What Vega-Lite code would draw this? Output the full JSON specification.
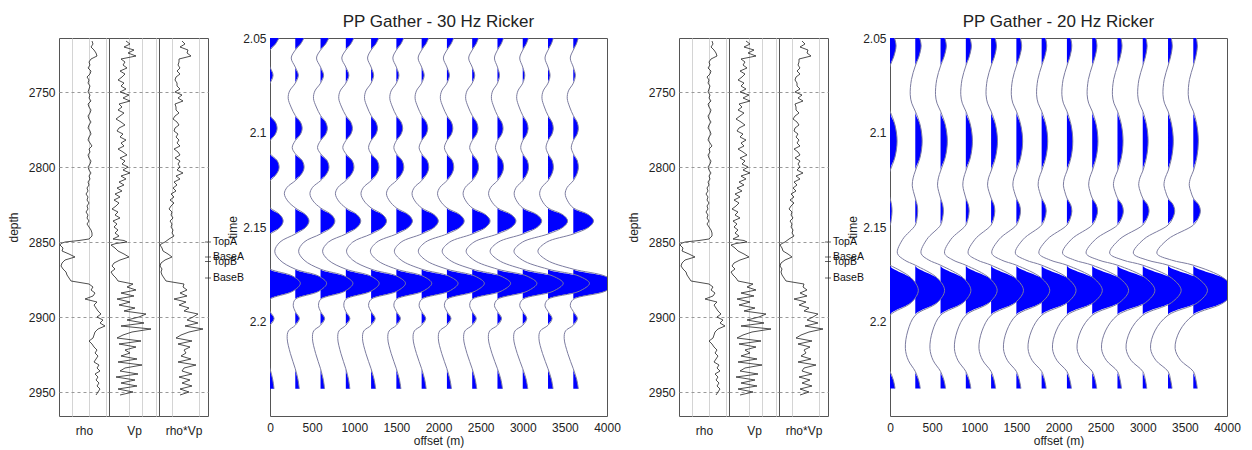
{
"$schema":"https://vega.github.io/schema/vega-lite/v6.json",
"padding":{"left":6,"top":12,"right":5,"bottom":5},
"bounds":"flush",
"spacing":0,
"datasets":{
"markers":[{"name":"TopA","d":2850},{"name":"BaseA","d":2860},{"name":"TopB","d":2863},{"name":"BaseB","d":2874}],
"logs":[
{"d":2716,"rho":2.46,"vp":2850,"ai":7450},{"d":2718,"rho":2.48,"vp":3050,"ai":7900},{"d":2720,"rho":2.44,"vp":2750,"ai":7150},{"d":2722,"rho":2.50,"vp":3250,"ai":8350},{"d":2724,"rho":2.54,"vp":2950,"ai":8200},{"d":2726,"rho":2.56,"vp":3350,"ai":8800},{"d":2728,"rho":2.44,"vp":2600,"ai":7000},{"d":2730,"rho":2.40,"vp":2800,"ai":7000},{"d":2732,"rho":2.42,"vp":2700,"ai":6850},{"d":2734,"rho":2.38,"vp":2900,"ai":7150},{"d":2736,"rho":2.44,"vp":2550,"ai":6700},{"d":2738,"rho":2.42,"vp":2800,"ai":7150},{"d":2740,"rho":2.36,"vp":2650,"ai":6550},{"d":2742,"rho":2.40,"vp":2450,"ai":6400},{"d":2744,"rho":2.38,"vp":2750,"ai":6700},{"d":2746,"rho":2.42,"vp":2600,"ai":6700},{"d":2748,"rho":2.40,"vp":2850,"ai":7150},{"d":2750,"rho":2.38,"vp":2550,"ai":6400},{"d":2752,"rho":2.42,"vp":3000,"ai":7450},{"d":2754,"rho":2.40,"vp":2700,"ai":6850},{"d":2756,"rho":2.44,"vp":3050,"ai":7600},{"d":2758,"rho":2.38,"vp":2500,"ai":6400},{"d":2760,"rho":2.40,"vp":2650,"ai":6550},{"d":2762,"rho":2.44,"vp":2450,"ai":6550},{"d":2764,"rho":2.42,"vp":2750,"ai":7000},{"d":2766,"rho":2.38,"vp":2550,"ai":6400},{"d":2768,"rho":2.40,"vp":2350,"ai":6100},{"d":2770,"rho":2.44,"vp":2600,"ai":6700},{"d":2772,"rho":2.40,"vp":2800,"ai":7000},{"d":2774,"rho":2.38,"vp":2500,"ai":6400},{"d":2776,"rho":2.42,"vp":2400,"ai":6250},{"d":2778,"rho":2.44,"vp":2700,"ai":6850},{"d":2780,"rho":2.40,"vp":2550,"ai":6550},{"d":2782,"rho":2.38,"vp":2850,"ai":7000},{"d":2784,"rho":2.42,"vp":2600,"ai":6700},{"d":2786,"rho":2.46,"vp":2750,"ai":7150},{"d":2788,"rho":2.40,"vp":2450,"ai":6250},{"d":2790,"rho":2.42,"vp":2700,"ai":6850},{"d":2792,"rho":2.38,"vp":2900,"ai":7150},{"d":2794,"rho":2.40,"vp":2550,"ai":6400},{"d":2796,"rho":2.44,"vp":2800,"ai":7150},{"d":2798,"rho":2.42,"vp":2650,"ai":6850},{"d":2800,"rho":2.38,"vp":2950,"ai":7150},{"d":2802,"rho":2.40,"vp":2700,"ai":6700},{"d":2804,"rho":2.44,"vp":3050,"ai":7600},{"d":2806,"rho":2.40,"vp":2600,"ai":6550},{"d":2808,"rho":2.42,"vp":2850,"ai":7150},{"d":2810,"rho":2.38,"vp":2500,"ai":6250},{"d":2812,"rho":2.40,"vp":2750,"ai":6700},{"d":2814,"rho":2.36,"vp":2400,"ai":6100},{"d":2816,"rho":2.38,"vp":2650,"ai":6550},{"d":2818,"rho":2.34,"vp":2300,"ai":5800},{"d":2820,"rho":2.38,"vp":2550,"ai":6250},{"d":2822,"rho":2.36,"vp":2250,"ai":5650},{"d":2824,"rho":2.40,"vp":2500,"ai":6250},{"d":2826,"rho":2.36,"vp":2350,"ai":5800},{"d":2828,"rho":2.38,"vp":2150,"ai":5500},{"d":2830,"rho":2.34,"vp":2450,"ai":5950},{"d":2832,"rho":2.38,"vp":2300,"ai":5800},{"d":2834,"rho":2.36,"vp":2550,"ai":6100},{"d":2836,"rho":2.40,"vp":2200,"ai":5650},{"d":2838,"rho":2.36,"vp":2400,"ai":5950},{"d":2840,"rho":2.40,"vp":2250,"ai":5800},{"d":2842,"rho":2.44,"vp":2450,"ai":6100},{"d":2844,"rho":2.46,"vp":2300,"ai":5950},{"d":2846,"rho":2.46,"vp":2500,"ai":6250},{"d":2848,"rho":2.40,"vp":2200,"ai":5500},{"d":2849,"rho":2.20,"vp":2750,"ai":5200},{"d":2850,"rho":1.92,"vp":2900,"ai":4900},{"d":2851,"rho":1.84,"vp":2350,"ai":4450},{"d":2852,"rho":1.82,"vp":2100,"ai":4150},{"d":2854,"rho":1.88,"vp":2300,"ai":4450},{"d":2856,"rho":1.86,"vp":2450,"ai":4600},{"d":2858,"rho":2.00,"vp":2750,"ai":5350},{"d":2860,"rho":2.12,"vp":3000,"ai":5950},{"d":2862,"rho":1.92,"vp":2550,"ai":4900},{"d":2864,"rho":1.86,"vp":2250,"ai":4300},{"d":2866,"rho":1.84,"vp":2150,"ai":4150},{"d":2868,"rho":1.88,"vp":2300,"ai":4450},{"d":2870,"rho":1.94,"vp":2100,"ai":4300},{"d":2872,"rho":1.96,"vp":2200,"ai":4450},{"d":2874,"rho":2.00,"vp":2350,"ai":4750},{"d":2876,"rho":2.04,"vp":2450,"ai":5050},{"d":2878,"rho":2.40,"vp":3200,"ai":7750},{"d":2880,"rho":2.48,"vp":2900,"ai":7600},{"d":2882,"rho":2.44,"vp":3350,"ai":8200},{"d":2884,"rho":2.52,"vp":2600,"ai":7150},{"d":2886,"rho":2.48,"vp":3250,"ai":8200},{"d":2888,"rho":2.32,"vp":2400,"ai":6250},{"d":2890,"rho":2.56,"vp":3050,"ai":8050},{"d":2892,"rho":2.50,"vp":2500,"ai":7000},{"d":2894,"rho":2.54,"vp":3300,"ai":8500},{"d":2896,"rho":2.58,"vp":2750,"ai":7750},{"d":2898,"rho":2.64,"vp":3850,"ai":9850},{"d":2900,"rho":2.56,"vp":3500,"ai":9100},{"d":2902,"rho":2.68,"vp":2900,"ai":8200},{"d":2904,"rho":2.62,"vp":3750,"ai":9850},{"d":2906,"rho":2.72,"vp":2600,"ai":7900},{"d":2908,"rho":2.58,"vp":4100,"ai":10600},{"d":2910,"rho":2.52,"vp":3150,"ai":8500},{"d":2912,"rho":2.50,"vp":2700,"ai":7300},{"d":2914,"rho":2.48,"vp":2400,"ai":6550},{"d":2916,"rho":2.40,"vp":3600,"ai":8950},{"d":2918,"rho":2.46,"vp":2500,"ai":6850},{"d":2920,"rho":2.50,"vp":3350,"ai":8650},{"d":2922,"rho":2.56,"vp":2800,"ai":7750},{"d":2924,"rho":2.52,"vp":3050,"ai":8050},{"d":2926,"rho":2.58,"vp":2600,"ai":7300},{"d":2928,"rho":2.54,"vp":3400,"ai":8800},{"d":2930,"rho":2.50,"vp":2450,"ai":6850},{"d":2932,"rho":2.60,"vp":3650,"ai":9550},{"d":2934,"rho":2.56,"vp":2800,"ai":7750},{"d":2936,"rho":2.62,"vp":2550,"ai":7450},{"d":2938,"rho":2.52,"vp":3450,"ai":8950},{"d":2940,"rho":2.58,"vp":2350,"ai":7000},{"d":2942,"rho":2.54,"vp":3300,"ai":8650},{"d":2944,"rho":2.60,"vp":2600,"ai":7450},{"d":2946,"rho":2.56,"vp":3400,"ai":8950},{"d":2948,"rho":2.62,"vp":2450,"ai":7150},{"d":2950,"rho":2.58,"vp":3200,"ai":8500},{"d":2952,"rho":2.54,"vp":2550,"ai":7150}
],
"g30":[
{"t":2.05,"0":9,"300":8.7,"600":8.3,"900":8,"1200":7.7,"1500":7.3,"1800":7,"2100":6.7,"2400":6.3,"2700":6,"3000":5.7,"3300":5.3,"3600":5},
{"t":2.0532,"0":5.4,"300":5.2,"600":5,"900":4.8,"1200":4.6,"1500":4.4,"1800":4.2,"2100":4,"2400":3.8,"2700":3.6,"3000":3.4,"3300":3.2,"3600":3},
{"t":2.0564,"0":0,"300":0,"600":0,"900":0,"1200":0,"1500":0,"1800":0,"2100":0,"2400":0,"2700":0,"3000":0,"3300":0,"3600":0},
{"t":2.0606,"0":-4,"300":-4,"600":-4,"900":-4,"1200":-3.5,"1500":-3.5,"1800":-3.5,"2100":-3.5,"2400":-3.5,"2700":-3,"3000":-3,"3300":-3,"3600":-3},
{"t":2.0654,"0":0,"300":0,"600":0,"900":0,"1200":0,"1500":0,"1800":0,"2100":0,"2400":0,"2700":0,"3000":0,"3300":0,"3600":0},
{"t":2.0697,"0":3,"300":3,"600":3,"900":3,"1200":2.5,"1500":2.5,"1800":2.5,"2100":2.5,"2400":2.5,"2700":2,"3000":2,"3300":2,"3600":2},
{"t":2.0739,"0":0,"300":0,"600":0,"900":0,"1200":0,"1500":0,"1800":0,"2100":0,"2400":0,"2700":0,"3000":0,"3300":0,"3600":0},
{"t":2.078,"0":-5.6,"300":-5.6,"600":-5.6,"900":-5.6,"1200":-5.2,"1500":-5.2,"1800":-5.2,"2100":-5.2,"2400":-5.2,"2700":-4.8,"3000":-4.8,"3300":-4.8,"3600":-4.8},
{"t":2.0819,"0":-7,"300":-7,"600":-7,"900":-7,"1200":-6.5,"1500":-6.5,"1800":-6.5,"2100":-6.5,"2400":-6.5,"2700":-6,"3000":-6,"3300":-6,"3600":-6},
{"t":2.0865,"0":-4.2,"300":-4.2,"600":-4.2,"900":-4.2,"1200":-3.9,"1500":-3.9,"1800":-3.9,"2100":-3.9,"2400":-3.9,"2700":-3.6,"3000":-3.6,"3300":-3.6,"3600":-3.6},
{"t":2.091,"0":0,"300":0,"600":0,"900":0,"1200":0,"1500":0,"1800":0,"2100":0,"2400":0,"2700":0,"3000":0,"3300":0,"3600":0},
{"t":2.0945,"0":5.3,"300":5.1,"600":5,"900":4.9,"1200":4.7,"1500":4.7,"1800":4.5,"2100":4.4,"2400":4.3,"2700":4.1,"3000":4,"3300":3.9,"3600":3.8},
{"t":2.0979,"0":7,"300":6.8,"600":6.7,"900":6.5,"1200":6.3,"1500":6.2,"1800":6,"2100":5.8,"2400":5.7,"2700":5.5,"3000":5.3,"3300":5.2,"3600":5},
{"t":2.1012,"0":4.9,"300":4.8,"600":4.7,"900":4.6,"1200":4.4,"1500":4.3,"1800":4.2,"2100":4.1,"2400":4,"2700":3.9,"3000":3.7,"3300":3.6,"3600":3.5},
{"t":2.1043,"0":0,"300":0,"600":0,"900":0,"1200":0,"1500":0,"1800":0,"2100":0,"2400":0,"2700":0,"3000":0,"3300":0,"3600":0},
{"t":2.108,"0":-3,"300":-3,"600":-3,"900":-3,"1200":-2.5,"1500":-2.5,"1800":-2.5,"2100":-2.5,"2400":-2.5,"2700":-2,"3000":-2,"3300":-2,"3600":-2},
{"t":2.1112,"0":0,"300":0,"600":0,"900":0,"1200":0,"1500":0,"1800":0,"2100":0,"2400":0,"2700":0,"3000":0,"3300":0,"3600":0},
{"t":2.115,"0":7.2,"300":7,"600":6.6,"900":6.4,"1200":6.2,"1500":5.8,"1800":5.6,"2100":5.4,"2400":5,"2700":4.8,"3000":4.6,"3300":4.2,"3600":4},
{"t":2.1186,"0":9,"300":8.7,"600":8.3,"900":8,"1200":7.7,"1500":7.3,"1800":7,"2100":6.7,"2400":6.3,"2700":6,"3000":5.7,"3300":5.3,"3600":5},
{"t":2.122,"0":6.3,"300":6.1,"600":5.8,"900":5.6,"1200":5.4,"1500":5.1,"1800":4.9,"2100":4.7,"2400":4.4,"2700":4.2,"3000":4,"3300":3.7,"3600":3.5},
{"t":2.1255,"0":0,"300":0,"600":0,"900":0,"1200":0,"1500":0,"1800":0,"2100":0,"2400":0,"2700":0,"3000":0,"3300":0,"3600":0},
{"t":2.129,"0":-8.3,"300":-8.1,"600":-7.9,"900":-7.7,"1200":-7.5,"1500":-7.3,"1800":-7.1,"2100":-6.9,"2400":-6.8,"2700":-6.6,"3000":-6.4,"3300":-6.2,"3600":-6},
{"t":2.1324,"0":-11,"300":-10.8,"600":-10.5,"900":-10.3,"1200":-10,"1500":-9.8,"1800":-9.5,"2100":-9.3,"2400":-9,"2700":-8.8,"3000":-8.5,"3300":-8.3,"3600":-8},
{"t":2.1362,"0":-7.7,"300":-7.5,"600":-7.4,"900":-7.2,"1200":-7,"1500":-6.8,"1800":-6.7,"2100":-6.5,"2400":-6.3,"2700":-6.1,"3000":-6,"3300":-5.8,"3600":-5.6},
{"t":2.1399,"0":0,"300":0,"600":0,"900":0,"1200":0,"1500":0,"1800":0,"2100":0,"2400":0,"2700":0,"3000":0,"3300":0,"3600":0},
{"t":2.1435,"0":9.8,"300":10.2,"600":10.7,"900":11.1,"1200":11.5,"1500":11.9,"1800":12.4,"2100":12.8,"2400":13.3,"2700":13.7,"3000":14.1,"3300":14.6,"3600":15},
{"t":2.1468,"0":13,"300":13.6,"600":14.2,"900":14.8,"1200":15.3,"1500":15.9,"1800":16.5,"2100":17.1,"2400":17.7,"2700":18.3,"3000":18.8,"3300":19.4,"3600":20},
{"t":2.1502,"0":9.8,"300":10.2,"600":10.7,"900":11.1,"1200":11.5,"1500":11.9,"1800":12.4,"2100":12.8,"2400":13.3,"2700":13.7,"3000":14.1,"3300":14.6,"3600":15},
{"t":2.1537,"0":0,"300":0,"600":0,"900":0,"1200":0,"1500":0,"1800":0,"2100":0,"2400":0,"2700":0,"3000":0,"3300":0,"3600":0},
{"t":2.158,"0":-14.3,"300":-15.2,"600":-16.3,"900":-17.3,"1200":-18.2,"1500":-19.3,"1800":-20.3,"2100":-21.2,"2400":-22.3,"2700":-23.3,"3000":-24.2,"3300":-25.3,"3600":-26.3},
{"t":2.1628,"0":-19,"300":-20.3,"600":-21.7,"900":-23,"1200":-24.3,"1500":-25.7,"1800":-27,"2100":-28.3,"2400":-29.7,"2700":-31,"3000":-32.3,"3300":-33.7,"3600":-35},
{"t":2.1675,"0":-14.3,"300":-15.2,"600":-16.3,"900":-17.3,"1200":-18.2,"1500":-19.3,"1800":-20.3,"2100":-21.2,"2400":-22.3,"2700":-23.3,"3000":-24.2,"3300":-25.3,"3600":-26.3},
{"t":2.1723,"0":0,"300":0,"600":0,"900":0,"1200":0,"1500":0,"1800":0,"2100":0,"2400":0,"2700":0,"3000":0,"3300":0,"3600":0},
{"t":2.176,"0":22.5,"300":23.3,"600":24,"900":24.8,"1200":25.5,"1500":26.3,"1800":27,"2100":27.8,"2400":28.5,"2700":29.3,"3000":30,"3300":30.8,"3600":31.5},
{"t":2.1798,"0":30,"300":31,"600":32,"900":33,"1200":34,"1500":35,"1800":36,"2100":37,"2400":38,"2700":39,"3000":40,"3300":41,"3600":42},
{"t":2.184,"0":22.5,"300":23.3,"600":24,"900":24.8,"1200":25.5,"1500":26.3,"1800":27,"2100":27.8,"2400":28.5,"2700":29.3,"3000":30,"3300":30.8,"3600":31.5},
{"t":2.1883,"0":0,"300":0,"600":0,"900":0,"1200":0,"1500":0,"1800":0,"2100":0,"2400":0,"2700":0,"3000":0,"3300":0,"3600":0},
{"t":2.1915,"0":-2,"300":-2,"600":-2,"900":-2,"1200":-2.5,"1500":-2.5,"1800":-2.5,"2100":-2.5,"2400":-2.5,"2700":-3,"3000":-3,"3300":-3,"3600":-3},
{"t":2.1947,"0":0,"300":0,"600":0,"900":0,"1200":0,"1500":0,"1800":0,"2100":0,"2400":0,"2700":0,"3000":0,"3300":0,"3600":0},
{"t":2.1984,"0":4,"300":4,"600":4,"900":4,"1200":4,"1500":4,"1800":4,"2100":4,"2400":4,"2700":4,"3000":4,"3300":4,"3600":4},
{"t":2.202,"0":0,"300":0,"600":0,"900":0,"1200":0,"1500":0,"1800":0,"2100":0,"2400":0,"2700":0,"3000":0,"3300":0,"3600":0},
{"t":2.205,"0":-6.8,"300":-6.8,"600":-6.8,"900":-6.8,"1200":-7.2,"1500":-7.2,"1800":-7.2,"2100":-7.2,"2400":-7.2,"2700":-7.7,"3000":-7.7,"3300":-7.7,"3600":-7.7},
{"t":2.209,"0":-8,"300":-8,"600":-8,"900":-8,"1200":-8.5,"1500":-8.5,"1800":-8.5,"2100":-8.5,"2400":-8.5,"2700":-9,"3000":-9,"3300":-9,"3600":-9},
{"t":2.217,"0":-4.8,"300":-4.8,"600":-4.8,"900":-4.8,"1200":-5.1,"1500":-5.1,"1800":-5.1,"2100":-5.1,"2400":-5.1,"2700":-5.4,"3000":-5.4,"3300":-5.4,"3600":-5.4},
{"t":2.225,"0":0,"300":0,"600":0,"900":0,"1200":0,"1500":0,"1800":0,"2100":0,"2400":0,"2700":0,"3000":0,"3300":0,"3600":0},
{"t":2.2305,"0":2.6,"300":2.6,"600":2.6,"900":2.6,"1200":2.9,"1500":2.9,"1800":2.9,"2100":2.9,"2400":2.9,"2700":3.3,"3000":3.3,"3300":3.3,"3600":3.3},
{"t":2.2356,"0":4,"300":4,"600":4,"900":4,"1200":4.5,"1500":4.5,"1800":4.5,"2100":4.5,"2400":4.5,"2700":5,"3000":5,"3300":5,"3600":5}
],
"g20":[
{"t":2.05,"0":4.5,"300":4.4,"600":4.3,"900":4.1,"1200":4,"1500":3.9,"1800":3.8,"2100":3.6,"2400":3.5,"2700":3.4,"3000":3.2,"3300":3.2,"3600":3},
{"t":2.0542,"0":6,"300":5.8,"600":5.7,"900":5.5,"1200":5.3,"1500":5.2,"1800":5,"2100":4.8,"2400":4.7,"2700":4.5,"3000":4.3,"3300":4.2,"3600":4},
{"t":2.06,"0":3.6,"300":3.5,"600":3.4,"900":3.3,"1200":3.2,"1500":3.1,"1800":3,"2100":2.9,"2400":2.8,"2700":2.7,"3000":2.6,"3300":2.5,"3600":2.4},
{"t":2.0648,"0":0,"300":0,"600":0,"900":0,"1200":0,"1500":0,"1800":0,"2100":0,"2400":0,"2700":0,"3000":0,"3300":0,"3600":0},
{"t":2.072,"0":-3.8,"300":-3.8,"600":-3.8,"900":-3.8,"1200":-3.8,"1500":-3.8,"1800":-3.8,"2100":-3.8,"2400":-3.8,"2700":-3.8,"3000":-3.8,"3300":-3.8,"3600":-3.8},
{"t":2.08,"0":-5,"300":-5,"600":-5,"900":-5,"1200":-5,"1500":-5,"1800":-5,"2100":-5,"2400":-5,"2700":-5,"3000":-5,"3300":-5,"3600":-5},
{"t":2.0845,"0":-3.5,"300":-3.5,"600":-3.5,"900":-3.5,"1200":-3.5,"1500":-3.5,"1800":-3.5,"2100":-3.5,"2400":-3.5,"2700":-3.5,"3000":-3.5,"3300":-3.5,"3600":-3.5},
{"t":2.0887,"0":0,"300":0,"600":0,"900":0,"1200":0,"1500":0,"1800":0,"2100":0,"2400":0,"2700":0,"3000":0,"3300":0,"3600":0},
{"t":2.096,"0":4.9,"300":4.8,"600":4.7,"900":4.6,"1200":4.4,"1500":4.3,"1800":4.2,"2100":4.1,"2400":4,"2700":3.9,"3000":3.7,"3300":3.6,"3600":3.5},
{"t":2.1046,"0":7,"300":6.8,"600":6.7,"900":6.5,"1200":6.3,"1500":6.2,"1800":6,"2100":5.8,"2400":5.7,"2700":5.5,"3000":5.3,"3300":5.2,"3600":5},
{"t":2.113,"0":4.9,"300":4.8,"600":4.7,"900":4.6,"1200":4.4,"1500":4.3,"1800":4.2,"2100":4.1,"2400":4,"2700":3.9,"3000":3.7,"3300":3.6,"3600":3.5},
{"t":2.1204,"0":0,"300":0,"600":0,"900":0,"1200":0,"1500":0,"1800":0,"2100":0,"2400":0,"2700":0,"3000":0,"3300":0,"3600":0},
{"t":2.124,"0":-2.1,"300":-2.1,"600":-2.1,"900":-2.1,"1200":-2.5,"1500":-2.5,"1800":-2.5,"2100":-2.5,"2400":-2.5,"2700":-2.8,"3000":-2.8,"3300":-2.8,"3600":-2.8},
{"t":2.1279,"0":-3,"300":-3,"600":-3,"900":-3,"1200":-3.5,"1500":-3.5,"1800":-3.5,"2100":-3.5,"2400":-3.5,"2700":-4,"3000":-4,"3300":-4,"3600":-4},
{"t":2.1313,"0":-1.8,"300":-1.8,"600":-1.8,"900":-1.8,"1200":-2.1,"1500":-2.1,"1800":-2.1,"2100":-2.1,"2400":-2.1,"2700":-2.4,"3000":-2.4,"3300":-2.4,"3600":-2.4},
{"t":2.1347,"0":0,"300":0,"600":0,"900":0,"1200":0,"1500":0,"1800":0,"2100":0,"2400":0,"2700":0,"3000":0,"3300":0,"3600":0},
{"t":2.1382,"0":1.5,"300":1.8,"600":2.1,"900":2.5,"1200":2.8,"1500":3.1,"1800":3.4,"2100":3.7,"2400":4,"2700":4.4,"3000":4.7,"3300":5,"3600":5.3},
{"t":2.1416,"0":2,"300":2.4,"600":2.8,"900":3.3,"1200":3.7,"1500":4.1,"1800":4.5,"2100":4.9,"2400":5.3,"2700":5.8,"3000":6.2,"3300":6.6,"3600":7},
{"t":2.1453,"0":1.4,"300":1.7,"600":2,"900":2.3,"1200":2.6,"1500":2.9,"1800":3.2,"2100":3.4,"2400":3.7,"2700":4.1,"3000":4.3,"3300":4.6,"3600":4.9},
{"t":2.149,"0":0,"300":0,"600":0,"900":0,"1200":0,"1500":0,"1800":0,"2100":0,"2400":0,"2700":0,"3000":0,"3300":0,"3600":0},
{"t":2.1565,"0":-11.2,"300":-12.4,"600":-13.5,"900":-14.7,"1200":-15.9,"1500":-17,"1800":-18.2,"2100":-19.4,"2400":-20.5,"2700":-21.7,"3000":-22.9,"3300":-24,"3600":-25.2},
{"t":2.1639,"0":-16,"300":-17.7,"600":-19.3,"900":-21,"1200":-22.7,"1500":-24.3,"1800":-26,"2100":-27.7,"2400":-29.3,"2700":-31,"3000":-32.7,"3300":-34.3,"3600":-36},
{"t":2.1675,"0":-9.6,"300":-10.6,"600":-11.6,"900":-12.6,"1200":-13.6,"1500":-14.6,"1800":-15.6,"2100":-16.6,"2400":-17.6,"2700":-18.6,"3000":-19.6,"3300":-20.6,"3600":-21.6},
{"t":2.1702,"0":0,"300":0,"600":0,"900":0,"1200":0,"1500":0,"1800":0,"2100":0,"2400":0,"2700":0,"3000":0,"3300":0,"3600":0},
{"t":2.177,"0":21,"300":21.8,"600":22.5,"900":23.3,"1200":24,"1500":24.8,"1800":25.5,"2100":26.3,"2400":27,"2700":27.8,"3000":28.5,"3300":29.3,"3600":30},
{"t":2.1835,"0":28,"300":29,"600":30,"900":31,"1200":32,"1500":33,"1800":34,"2100":35,"2400":36,"2700":37,"3000":38,"3300":39,"3600":40},
{"t":2.19,"0":21,"300":21.8,"600":22.5,"900":23.3,"1200":24,"1500":24.8,"1800":25.5,"2100":26.3,"2400":27,"2700":27.8,"3000":28.5,"3300":29.3,"3600":30},
{"t":2.1967,"0":0,"300":0,"600":0,"900":0,"1200":0,"1500":0,"1800":0,"2100":0,"2400":0,"2700":0,"3000":0,"3300":0,"3600":0},
{"t":2.205,"0":-6.8,"300":-7.4,"600":-7.9,"900":-8.5,"1200":-9,"1500":-9.6,"1800":-10.1,"2100":-10.7,"2400":-11.3,"2700":-11.9,"3000":-12.4,"3300":-13,"3600":-13.5},
{"t":2.2142,"0":-9,"300":-9.8,"600":-10.5,"900":-11.3,"1200":-12,"1500":-12.8,"1800":-13.5,"2100":-14.3,"2400":-15,"2700":-15.8,"3000":-16.5,"3300":-17.3,"3600":-18},
{"t":2.2205,"0":-6.3,"300":-6.9,"600":-7.4,"900":-7.9,"1200":-8.4,"1500":-9,"1800":-9.5,"2100":-10,"2400":-10.5,"2700":-11.1,"3000":-11.6,"3300":-12.1,"3600":-12.6},
{"t":2.2264,"0":0,"300":0,"600":0,"900":0,"1200":0,"1500":0,"1800":0,"2100":0,"2400":0,"2700":0,"3000":0,"3300":0,"3600":0},
{"t":2.231,"0":3.3,"300":3.3,"600":3.3,"900":3.3,"1200":2.9,"1500":2.9,"1800":2.9,"2100":2.9,"2400":2.9,"2700":2.6,"3000":2.6,"3300":2.6,"3600":2.6},
{"t":2.2354,"0":5,"300":5,"600":5,"900":5,"1200":4.5,"1500":4.5,"1800":4.5,"2100":4.5,"2400":4.5,"2700":4,"3000":4,"3300":4,"3600":4}
]
},
"hconcat":[
{"width":50,"height":378,"data":{"name":"logs"},"mark":{"type":"line","color":"#222","strokeWidth":0.8,"clip":true},
 "encoding":{"y":{"field":"d","type":"quantitative","scale":{"domain":[2714,2966],"reverse":true,"nice":false,"zero":false},"axis":{"title":"depth","values":[2750,2800,2850,2900,2950],"format":"d","grid":true,"gridDash":[3,3],"gridColor":"#999","labelPadding":4,"titlePadding":8}},
 "x":{"field":"rho","type":"quantitative","scale":{"domain":[1.8,2.8],"nice":false,"zero":false},"axis":{"title":"rho","labels":false,"values":[2.06,2.4,2.74],"grid":true,"gridColor":"#d4d4d4","titlePadding":9}},
 "order":{"field":"d","type":"quantitative"}}},
{"width":50,"height":378,"data":{"name":"logs"},"mark":{"type":"line","color":"#222","strokeWidth":0.8,"clip":true},
 "encoding":{"y":{"field":"d","type":"quantitative","scale":{"domain":[2714,2966],"reverse":true,"nice":false,"zero":false},"axis":{"title":null,"labels":false,"values":[2750,2800,2850,2900,2950],"grid":true,"gridDash":[3,3],"gridColor":"#999"}},
 "x":{"field":"vp","type":"quantitative","scale":{"domain":[2000,4500],"nice":false,"zero":false},"axis":{"title":"Vp","labels":false,"values":[3000,3650,4350],"grid":true,"gridColor":"#d4d4d4","titlePadding":9}},
 "order":{"field":"d","type":"quantitative"}}},
{"width":49,"height":378,
 "layer":[
 {"data":{"name":"logs"},"mark":{"type":"line","color":"#222","strokeWidth":0.8,"clip":true},
  "encoding":{"y":{"field":"d","type":"quantitative","scale":{"domain":[2714,2966],"reverse":true,"nice":false,"zero":false},"axis":{"title":null,"labels":false,"values":[2750,2800,2850,2900,2950],"grid":true,"gridDash":[3,3],"gridColor":"#999"}},
  "x":{"field":"ai","type":"quantitative","scale":{"domain":[4000,11350],"nice":false,"zero":false},"axis":{"title":"rho*Vp","labels":false,"values":[5950,8050,10000],"grid":true,"gridColor":"#d4d4d4","titlePadding":9}},
  "order":{"field":"d","type":"quantitative"}}},
 {"data":{"name":"markers"},"mark":{"type":"tick","orient":"horizontal","size":6,"thickness":1,"color":"#222","clip":false},
  "encoding":{"y":{"field":"d","type":"quantitative"},"x":{"datum":11350,"type":"quantitative","axis":{"title":"rho*Vp"}}}},
 {"data":{"name":"markers"},"mark":{"type":"text","align":"left","baseline":"middle","dx":5,"fontSize":10.5,"color":"#111","clip":false},
  "encoding":{"y":{"field":"d","type":"quantitative"},"x":{"datum":11350,"type":"quantitative","axis":{"title":"rho*Vp"}},"text":{"field":"name"}}}
 ]},
{"width":62,"height":378,"data":{"values":[]},"mark":"point","view":{"stroke":null}},
{"width":337,"height":378,"title":"PP Gather - 30 Hz Ricker","data":{"name":"g30"},
 "transform":[{"fold":["0","300","600","900","1200","1500","1800","2100","2400","2700","3000","3300","3600"],"as":["k","v"]},{"calculate":"toNumber(datum.k)","as":"o"},{"calculate":"datum.o + 12*datum.v","as":"xw"},{"calculate":"datum.o + 12*max(datum.v,0)","as":"xp"}],
 "encoding":{"y":{"field":"t","type":"quantitative","scale":{"domain":[2.05,2.25],"reverse":true,"nice":false,"zero":false},"axis":{"title":"time","values":[2.05,2.1,2.15,2.2],"format":"~g","grid":false,"labelPadding":4,"titlePadding":3}}},
 "layer":[
 {"mark":{"type":"area","orient":"horizontal","color":"#0000ff","interpolate":"monotone","clip":true},
  "encoding":{"x":{"field":"xp","type":"quantitative","stack":null,"scale":{"domain":[0,4000],"nice":false,"zero":false},"axis":{"title":"offset (m)","values":[0,500,1000,1500,2000,2500,3000,3500,4000],"format":"d","grid":false,"labelPadding":6,"titlePadding":2}},"x2":{"field":"o"},"detail":{"field":"o","type":"nominal"}}},
 {"mark":{"type":"line","color":"#7c7ca0","strokeWidth":1,"interpolate":"catmull-rom","clip":true},
  "encoding":{"x":{"field":"xw","type":"quantitative"},"detail":{"field":"o","type":"nominal"},"order":{"field":"t","type":"quantitative"}}}
 ]},
{"width":72,"height":378,"data":{"values":[]},"mark":"point","view":{"stroke":null}},
{"width":50,"height":378,"data":{"name":"logs"},"mark":{"type":"line","color":"#222","strokeWidth":0.8,"clip":true},
 "encoding":{"y":{"field":"d","type":"quantitative","scale":{"domain":[2714,2966],"reverse":true,"nice":false,"zero":false},"axis":{"title":"depth","values":[2750,2800,2850,2900,2950],"format":"d","grid":true,"gridDash":[3,3],"gridColor":"#999","labelPadding":4,"titlePadding":8}},
 "x":{"field":"rho","type":"quantitative","scale":{"domain":[1.8,2.8],"nice":false,"zero":false},"axis":{"title":"rho","labels":false,"values":[2.06,2.4,2.74],"grid":true,"gridColor":"#d4d4d4","titlePadding":9}},
 "order":{"field":"d","type":"quantitative"}}},
{"width":50,"height":378,"data":{"name":"logs"},"mark":{"type":"line","color":"#222","strokeWidth":0.8,"clip":true},
 "encoding":{"y":{"field":"d","type":"quantitative","scale":{"domain":[2714,2966],"reverse":true,"nice":false,"zero":false},"axis":{"title":null,"labels":false,"values":[2750,2800,2850,2900,2950],"grid":true,"gridDash":[3,3],"gridColor":"#999"}},
 "x":{"field":"vp","type":"quantitative","scale":{"domain":[2000,4500],"nice":false,"zero":false},"axis":{"title":"Vp","labels":false,"values":[3000,3650,4350],"grid":true,"gridColor":"#d4d4d4","titlePadding":9}},
 "order":{"field":"d","type":"quantitative"}}},
{"width":49,"height":378,
 "layer":[
 {"data":{"name":"logs"},"mark":{"type":"line","color":"#222","strokeWidth":0.8,"clip":true},
  "encoding":{"y":{"field":"d","type":"quantitative","scale":{"domain":[2714,2966],"reverse":true,"nice":false,"zero":false},"axis":{"title":null,"labels":false,"values":[2750,2800,2850,2900,2950],"grid":true,"gridDash":[3,3],"gridColor":"#999"}},
  "x":{"field":"ai","type":"quantitative","scale":{"domain":[4000,11350],"nice":false,"zero":false},"axis":{"title":"rho*Vp","labels":false,"values":[5950,8050,10000],"grid":true,"gridColor":"#d4d4d4","titlePadding":9}},
  "order":{"field":"d","type":"quantitative"}}},
 {"data":{"name":"markers"},"mark":{"type":"tick","orient":"horizontal","size":6,"thickness":1,"color":"#222","clip":false},
  "encoding":{"y":{"field":"d","type":"quantitative"},"x":{"datum":11350,"type":"quantitative","axis":{"title":"rho*Vp"}}}},
 {"data":{"name":"markers"},"mark":{"type":"text","align":"left","baseline":"middle","dx":5,"fontSize":10.5,"color":"#111","clip":false},
  "encoding":{"y":{"field":"d","type":"quantitative"},"x":{"datum":11350,"type":"quantitative","axis":{"title":"rho*Vp"}},"text":{"field":"name"}}}
 ]},
{"width":62,"height":378,"data":{"values":[]},"mark":"point","view":{"stroke":null}},
{"width":337,"height":378,"title":"PP Gather - 20 Hz Ricker","data":{"name":"g20"},
 "transform":[{"fold":["0","300","600","900","1200","1500","1800","2100","2400","2700","3000","3300","3600"],"as":["k","v"]},{"calculate":"toNumber(datum.k)","as":"o"},{"calculate":"datum.o + 12*datum.v","as":"xw"},{"calculate":"datum.o + 12*max(datum.v,0)","as":"xp"}],
 "encoding":{"y":{"field":"t","type":"quantitative","scale":{"domain":[2.05,2.25],"reverse":true,"nice":false,"zero":false},"axis":{"title":"time","values":[2.05,2.1,2.15,2.2],"format":"~g","grid":false,"labelPadding":4,"titlePadding":3}}},
 "layer":[
 {"mark":{"type":"area","orient":"horizontal","color":"#0000ff","interpolate":"monotone","clip":true},
  "encoding":{"x":{"field":"xp","type":"quantitative","stack":null,"scale":{"domain":[0,4000],"nice":false,"zero":false},"axis":{"title":"offset (m)","values":[0,500,1000,1500,2000,2500,3000,3500,4000],"format":"d","grid":false,"labelPadding":6,"titlePadding":2}},"x2":{"field":"o"},"detail":{"field":"o","type":"nominal"}}},
 {"mark":{"type":"line","color":"#7c7ca0","strokeWidth":1,"interpolate":"catmull-rom","clip":true},
  "encoding":{"x":{"field":"xw","type":"quantitative"},"detail":{"field":"o","type":"nominal"},"order":{"field":"t","type":"quantitative"}}}
 ]}
],
"config":{
 "font":"Liberation Sans",
 "view":{"stroke":"#555","strokeWidth":1},
 "axis":{"labelFontSize":12,"titleFontSize":12,"titleFontWeight":"normal","labelColor":"#222","titleColor":"#222","domain":false,"ticks":false,"labelFlush":false,"labelOverlap":false},
 "title":{"fontSize":17,"fontWeight":"normal","color":"#222","offset":1,"baseline":"alphabetic"}
}
}
